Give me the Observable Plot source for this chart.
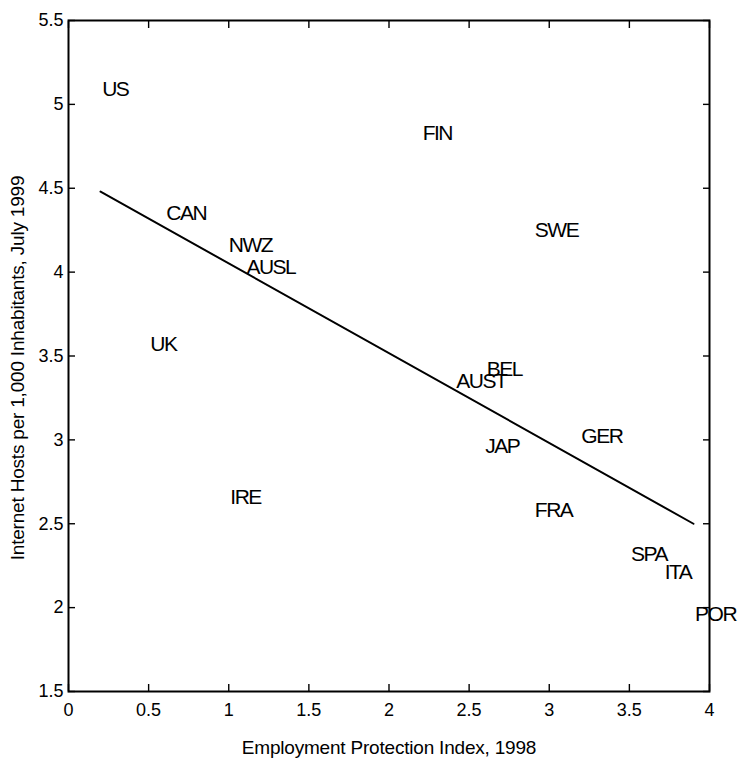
<!DOCTYPE html>
<html><head><meta charset="utf-8">
<script src="https://cdn.jsdelivr.net/npm/d3@7"></script>
<script src="https://cdn.jsdelivr.net/npm/@observablehq/plot@0.6"></script>
<style>body{margin:0;background:#fff}</style>
</head><body><div id="chart"></div>
<script>
const countries = ["US","CAN","NWZ","AUSL","UK","IRE","FIN","SWE","BEL","AUST","JAP","GER","FRA","SPA","ITA","POR"];
const epIndex = [0.21,0.61,1.00,1.11,0.51,1.01,2.21,2.91,2.61,2.42,2.60,3.20,2.91,3.51,3.72,3.91];
const hosts = [5.09,4.35,4.16,4.03,3.57,2.66,4.83,4.25,3.42,3.35,2.96,3.02,2.58,2.32,2.21,1.96];
const fitX = [0.2, 3.9];
const fitY = [4.48, 2.50];
const xTicks = [0,0.5,1,1.5,2,2.5,3,3.5,4];
const yTicks = [1.5,2,2.5,3,3.5,4,4.5,5,5.5];
const xTitle = "Employment Protection Index, 1998";
const yTitle = "Internet Hosts per 1,000 Inhabitants, July 1999";

const points = countries.map((c,i)=>({name:c, x:epIndex[i], y:hosts[i]}));
const fit = fitX.map((x,i)=>({x, y:fitY[i]}));
const blank = () => "";

const svg = Plot.plot({
  width: 738, height: 759,
  marginLeft: 68, marginTop: 20, marginRight: 29, marginBottom: 68,
  style: {fontFamily: "Arial, 'Liberation Sans', sans-serif", color: "black", background: "white", overflow: "visible"},
  x: {domain: [0,4], label: null},
  y: {domain: [1.5,5.5], label: null},
  marks: [
    Plot.frame({stroke: "black", strokeWidth: 2}),
    Plot.axisX(xTicks, {anchor: "bottom", tickSize: 0, tickPadding: 12, tickFormat: String, fontSize: 18, label: null}),
    Plot.axisX(xTicks, {anchor: "bottom", tickSize: 7, dy: -7, tickFormat: blank, strokeWidth: 1.4, label: null}),
    Plot.axisX(xTicks, {anchor: "top", tickSize: 7, dy: 7, tickFormat: blank, strokeWidth: 1.4, label: null}),
    Plot.axisY(yTicks, {anchor: "left", tickSize: 0, tickPadding: 5, tickFormat: String, fontSize: 18, label: null}),
    Plot.axisY(yTicks, {anchor: "left", tickSize: 7, dx: 7, tickFormat: blank, strokeWidth: 1.4, label: null}),
    Plot.axisY(yTicks, {anchor: "right", tickSize: 7, dx: -7, tickFormat: blank, strokeWidth: 1.4, label: null}),
    Plot.line(fit, {x: "x", y: "y", stroke: "black", strokeWidth: 2}),
    Plot.text(points, {x: "x", y: "y", text: "name", textAnchor: "start", lineAnchor: "middle", fontSize: 21, fill: "black"}),
    Plot.text([xTitle], {frameAnchor: "bottom", dy: 56, textAnchor: "middle", lineAnchor: "middle", fontSize: 19, fill: "black"}),
    Plot.text([yTitle], {frameAnchor: "left", dx: -51, dy: 12, rotate: -90, textAnchor: "middle", lineAnchor: "middle", fontSize: 19, fill: "black"})
  ]
});
const names = new Set(countries);
d3.select(svg).selectAll("text").each(function() {
  const t = this.textContent;
  if (names.has(t)) this.style.letterSpacing = "-1.5px";
  else if (t === xTitle || t === yTitle) this.style.letterSpacing = "-0.2px";
});
document.getElementById("chart").appendChild(svg);
</script>
</body></html>
